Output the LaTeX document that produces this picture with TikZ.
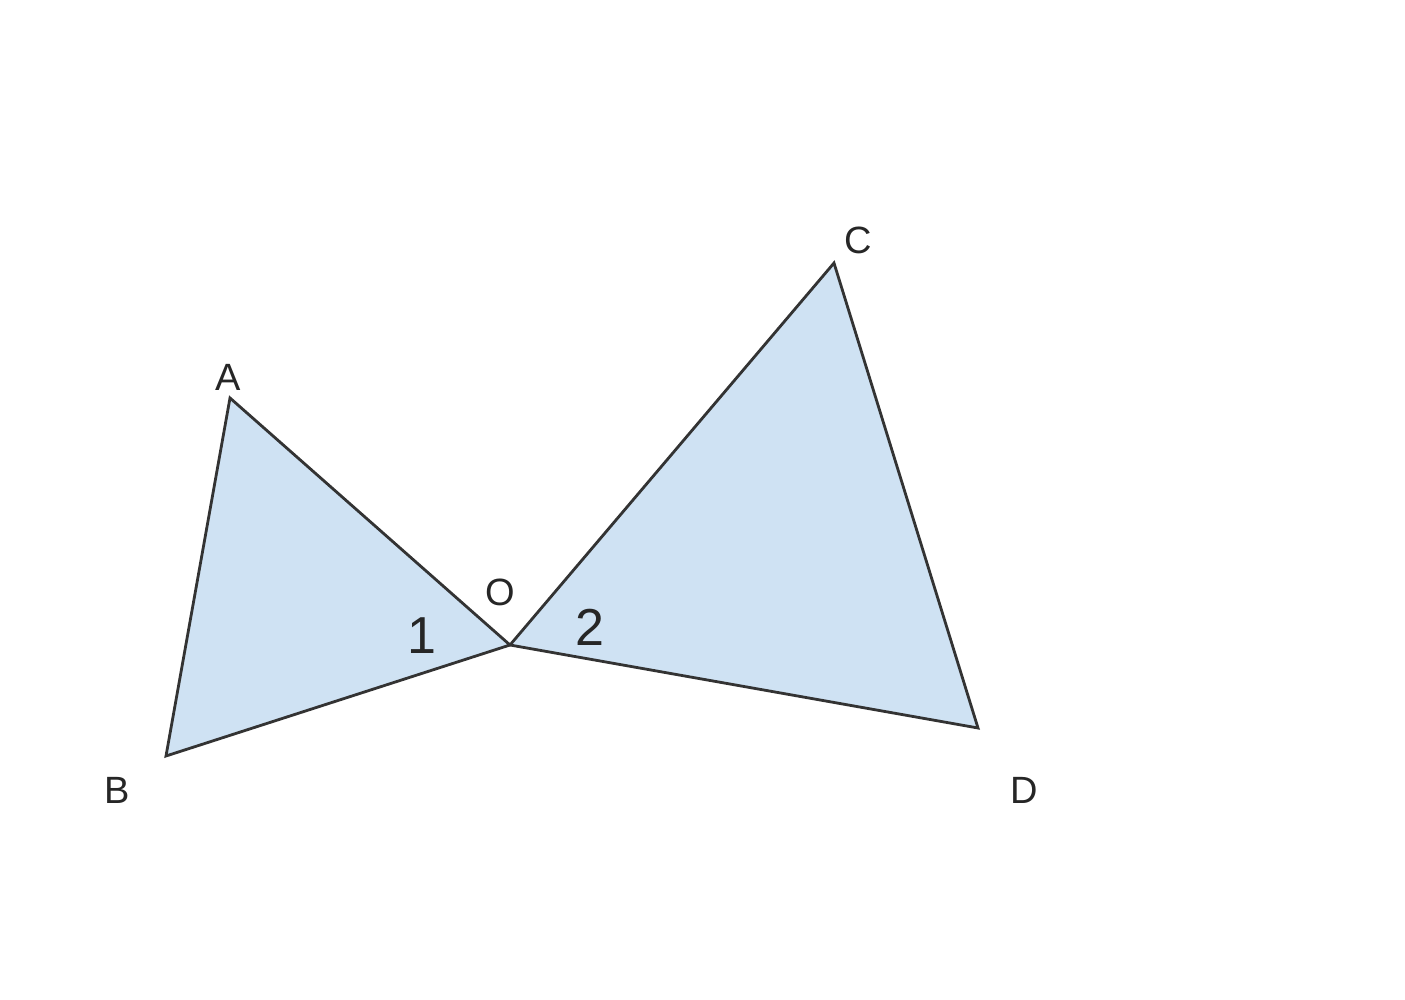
\documentclass[tikz,border=0pt]{standalone}
\usepackage{fontspec}
\setmainfont{Liberation Sans}
\definecolor{fillblue}{HTML}{CFE2F3}
\definecolor{edge}{HTML}{333333}
\begin{document}
\begin{tikzpicture}[x=0.5pt,y=-0.5pt,
  tri/.style={fill=fillblue,draw=edge,line width=1.4pt,line join=miter},
  lbl/.style={inner sep=0pt,font=\fontsize{19}{19}\selectfont,text=black!85},
  num/.style={inner sep=0pt,font=\fontsize{26}{26}\selectfont,text=black!85}]
\useasboundingbox (0,0) rectangle (1405,1000);
\coordinate (A) at (230,398);
\coordinate (B) at (166,756);
\coordinate (O) at (510,645);
\coordinate (C) at (834,263);
\coordinate (D) at (978,728);
\draw[tri] (A) -- (B) -- (O) -- cycle;
\draw[tri] (C) -- (O) -- (D) -- cycle;
\node[lbl] (lA) at (228,377) {A};
\node[lbl] (lB) at (117,790) {B};
\node[lbl] (lC) at (858,240) {C};
\node[lbl] (lD) at (1024,790) {D};
\node[lbl] (lO) at (500,592) {O};
\node[num] (n1) at (422,636) {1};
\node[num] (n2) at (590,627) {2};
\end{tikzpicture}
\end{document}
